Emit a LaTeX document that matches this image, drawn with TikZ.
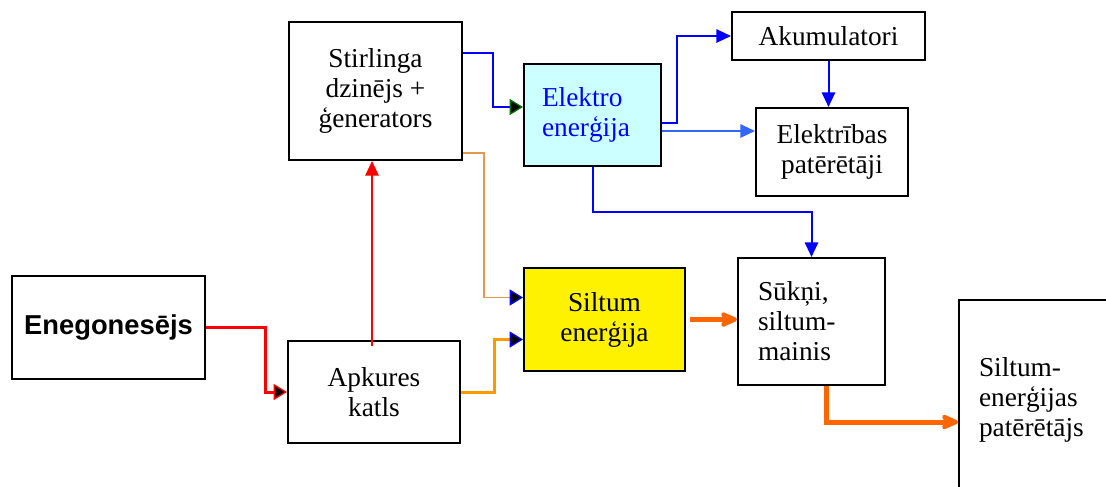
\documentclass[tikz,border=0pt]{standalone}
\usepackage{fontspec}
\setmainfont{Liberation Serif}
\newfontfamily\arialfont{Liberation Sans}
\usepackage{tikz}
\usetikzlibrary{positioning,arrows.meta,calc}
\usepackage{xcolor}
\definecolor{elblue}{RGB}{0,0,255}
\definecolor{ltblue}{RGB}{51,102,255}
\definecolor{tanline}{RGB}{227,154,77}
\definecolor{orline}{RGB}{255,153,0}
\definecolor{heatline}{RGB}{255,102,0}
\definecolor{arrgreen}{RGB}{0,110,0}
\definecolor{elfill}{RGB}{204,255,255}
\tikzset{
  blok/.style={draw,rectangle,line width=1.5pt,inner sep=0pt,align=center,
    font=\fontsize{20.5pt}{22.5pt}\selectfont},
  leftblok/.style={blok,align=left,inner xsep=#1},
  inarrow/.style={-{Triangle[color=#1,fill=black,length=10pt,width=12pt,line width=1pt]}},
  elarrow/.style={-{Triangle[length=11pt,width=10pt]}},
  heatarrow/.style={heatline,line width=3.75pt,-{Stealth[length=16pt,width=14pt,inset=4pt,round]}},
}

\begin{document}
\begin{tikzpicture}[x=0.75pt,y=-0.75pt]

\useasboundingbox (0,0) rectangle (1106,486);
\clip (0,0) rectangle (1106,486);

\node[blok,minimum width=144.75pt,minimum height=77.25pt] (enes) at (108.5,327.5) {\arialfont\bfseries Enegonesējs};
\node[blok,minimum width=129pt,minimum height=76.5pt] (apk) at (374,392) {Apkures\\katls};
\node[blok,minimum width=129.75pt,minimum height=103.5pt] (sterl) at (375.5,91) {Stirlinga\\dzinējs +\\ģenerators};
\node[leftblok=13.5pt,text width=75.75pt,fill=elfill,text=elblue,minimum height=76.5pt] (elektro) at (592.5,115) {Elektro\\enerģija};
\node[blok,fill=yellow,minimum width=120.75pt,minimum height=77.25pt] (siltum) at (604.5,319.5) {Siltum\\enerģija};
\node[blok,minimum width=144.75pt,minimum height=36pt] (akum) at (828.5,36) {Akumulatori};
\node[blok,minimum width=114pt,minimum height=66pt] (elpat) at (832,152) {Elektrības\\patērētāji};
\node[leftblok=15pt,text width=80.25pt,minimum height=95.25pt] (suk) at (811.5,321.5) {Sūkņi,\\siltum-\\mainis};
\node[leftblok=15pt,text width=97.5pt,minimum height=150pt] (spat) at (1044,400) {Siltum-\\enerģijas\\patērētājs};

% kurinamais un katls
\draw[red,line width=2.25pt,inarrow=red] (enes.east) -- ++(59,0) |- (apk.west);
\draw[red,line width=1.5pt,elarrow] ($(apk.north)+(-2,6)$) -- ($(apk.north |- sterl.south)+(-2,0)$);

% no Stirlinga dzinēja
\draw[elblue,line width=1.5pt,inarrow=arrgreen] ($(sterl.north east)+(0,32)$) -- ++(30,0) |- ($(elektro.west)+(0,-8)$);
\draw[tanline,line width=1.2pt,inarrow=elblue] ($(sterl.south east)+(0,-8)$) -- ++(21,0) |- ($(siltum.west)+(0,-22)$);
\draw[orline,line width=2.25pt,inarrow=elblue] (apk.east) -- ++(33,0) |- ($(siltum.west)+(0,20)$);

% elektroenerģija
\draw[elblue,line width=1.5pt,elarrow] ($(elektro.east)+(0,8)$) -- ++(15,0) |- (akum.west);
\draw[ltblue,line width=1.5pt,elarrow] ($(elektro.east)+(0,16)$) -- ($(elektro.east -| elpat.west)+(0,16)$);
\draw[elblue,line width=1.5pt,elarrow] (akum.south) -- (akum.south |- elpat.north);
\draw[elblue,line width=1.5pt,elarrow] (elektro.south) -- ++(0,45) -| (suk.north);

% siltumenerģija
\draw[heatarrow] ($(siltum.east)+(4,0)$) -- (siltum.east -| suk.west);
\draw[heatarrow] ($(suk.south)+(15,0)$) |- ($(spat.west)+(0,22)$);

\end{tikzpicture}
\end{document}
